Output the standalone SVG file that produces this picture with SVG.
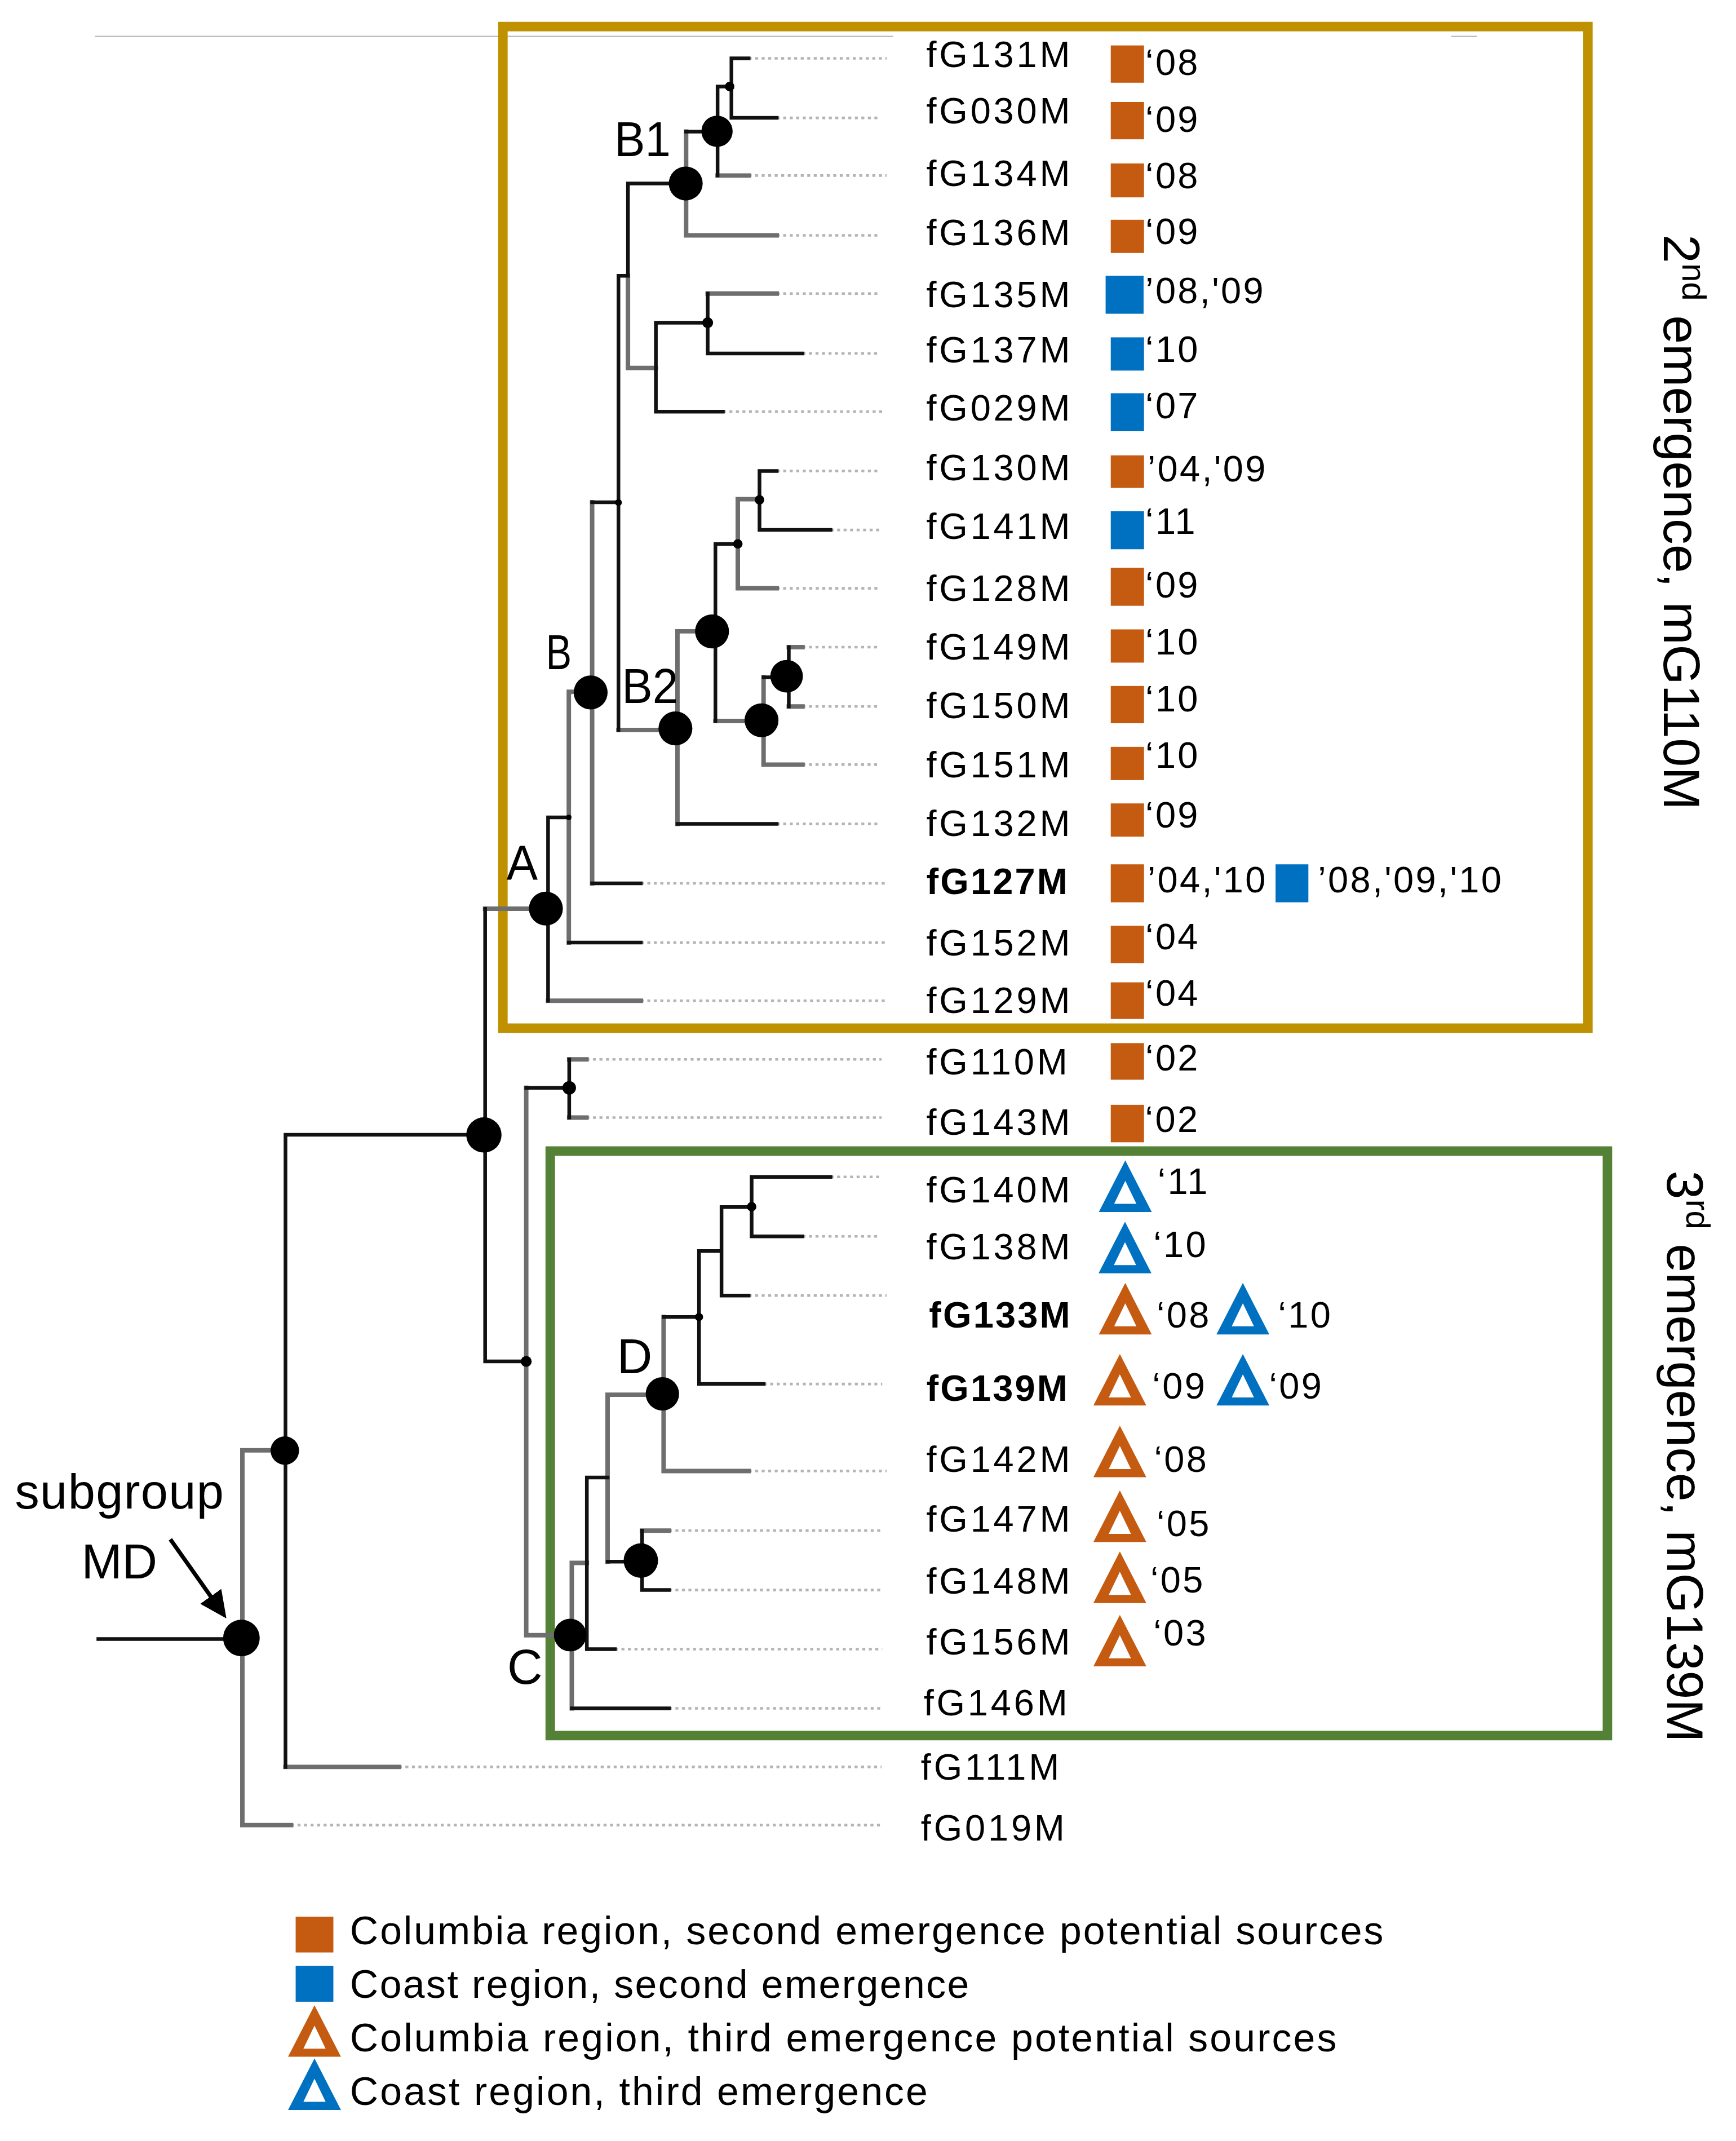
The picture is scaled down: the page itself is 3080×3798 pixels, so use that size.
<svg xmlns="http://www.w3.org/2000/svg" xmlns:xlink="http://www.w3.org/1999/xlink" width="3080" height="3798" viewBox="0 0 3080 3798">
<style>
.k{stroke:#111;stroke-width:2.7;fill:none;stroke-linecap:square}
.g{stroke:#6e6e6e;stroke-width:3.3;fill:none;stroke-linecap:square}
.d{stroke:#b4b4b4;stroke-width:1.9;stroke-dasharray:2.2 2.6;fill:none}
.nm{font-family:"Liberation Sans",Arial,sans-serif;font-size:27px;letter-spacing:2px;fill:#000}
.bd{font-weight:bold;letter-spacing:1.3px}
.yr{font-family:"Liberation Sans",Arial,sans-serif;font-size:27px;letter-spacing:1.4px;fill:#000}
.lb{font-family:"Liberation Sans",Arial,sans-serif;font-size:36px;fill:#000}
.lg{font-family:"Liberation Sans",Arial,sans-serif;font-size:29px;fill:#000}
.vt{font-family:"Liberation Sans",Arial,sans-serif;font-size:38px;fill:#000}
.or{fill:#C55A11}
.bl{fill:#0070C0}
.nd{fill:#000}
</style>
<defs>
<path id="tri" fill-rule="evenodd" d="M0,0 L19.5,38 L-19.5,38 Z M0,15 L-8.2,32 L8.2,32 Z"/>
<marker id="arr" markerUnits="userSpaceOnUse" markerWidth="22" markerHeight="20" refX="8" refY="9.5" orient="auto"><path d="M0,0 L20,9.5 L0,19 Z" fill="#000"/></marker>
</defs>
<rect width="3080" height="3798" fill="#fff"/>
<g transform="scale(2.40625)">
<g id="frame">
<path d="M70,26.8 H658.5 M1070,26.8 H1089" stroke="#b5b5b5" stroke-width="0.8" fill="none"/>
<rect id="box-2nd" x="370.8" y="19.6" width="800" height="738.4" fill="none" stroke="#BF9000" stroke-width="7"/>
<rect id="box-3rd" x="405.7" y="848.6" width="779.5" height="430.9" fill="none" stroke="#538135" stroke-width="7"/>
<text class="vt" transform="translate(1226.6,172.9) rotate(90)">2<tspan font-size="25" dy="-14">nd</tspan><tspan dy="14"> emergence, mG110M</tspan></text>
<text class="vt" transform="translate(1229.4,863) rotate(90)">3<tspan font-size="25" dy="-14">rd</tspan><tspan dy="14"> emergence, mG139M</tspan></text>
</g>
<g id="connectors">
<path class="d" d="M552,43H653.8M572.7,86.9H649M552,129.4H653.7M572.7,173.5H649M572.7,216.4H649M591.7,260.6H649M533,303.5H650.5M572.7,347.2H649M612.4,390.7H650.6M572.7,433.7H649M591.7,477.1H649M591.7,520.8H649M591.7,563.7H649M572.7,607.4H649M472.5,651.2H653.7M472.5,694.9H653.7M472.5,737.8H653.7M432.4,781H650M432.4,823.9H650M612.4,867.6H650.5M591.7,911.5H649M552,955.1H653.7M563.1,1020.3H650.5M552,1084.5H653.7M493.2,1128.4H649M493.2,1172.2H649M453.4,1215.8H650.5M493.2,1259.4H649M294.1,1302.6H650M214.6,1345.5H650"/>
<path class="g" d="M505.9,97V173.5M463,203.3V271.3H483.6M436.6,370.3V651.2M456,538.2H498M499.5,465.4V607.4M499.5,465.4H525M544,368V433.7M544,368H560M527.5,531.5H563M563,499.3V563.7M419.4,510H435.3M419.4,510V694.9M357.7,669.9H402.5M178.7,1069.2H210.5M178.7,1069.2V1345.5M388,802V1205.5H421.6M489.3,970.9V1084.5M448,1028.2H488.4M448,1028.2V1151.3M421.6,1152.2H432.7M421.6,1152.2V1259.4M529.1,129.4H552M505.9,173.5H572.7M521.8,216.4H572.7M544,433.7H572.7M581.6,477.1H591.7M581.6,520.8H591.7M563,563.7H591.7M404.1,737.8H472.5M419.7,781H432.4M419.7,823.9H432.4M489.3,1084.5H552M473.4,1128.4H493.2M210.5,1302.6H294.1M178.7,1345.5H214.6"/>
<path class="k" d="M539.3,43V86.9M529.1,63.8H539.3M529.1,63.8V129.4M505.9,97H529.1M463,135.3H505.9M463,135.3V203.3M483.6,237.9V303.5M483.6,237.9H521.8M521.8,216.4V260.6M456,203.3H463M456,203.3V538.2M436.6,370.3H456M527.5,401V531.5M527.5,401H544M560,347.2V390.7M563,499.3H580M581.6,477.1V520.8M404.1,602.6H419.4M404.1,602.6V737.8M357.7,669.9V1003.6M210.5,836.6H356.8M210.5,836.6V1302.6M72.5,1208.3H178M357.7,1003.6H388M388,802H419.7M419.7,781V823.9M554.2,867.6V911.5M532,889.9H554.2M532,889.9V955.1M515.4,922.3H532M515.4,922.3V1020.3M489.3,970.9H515.4M432.7,1089.2H448M432.7,1089.2V1215.8M448,1151.3H472.5M473.4,1128.4V1172.2M539.3,43H552M539.3,86.9H572.7M521.8,260.6H591.7M483.6,303.5H533M560,347.2H572.7M560,390.7H612.4M499.5,607.4H572.7M436.6,651.2H472.5M419.4,694.9H472.5M554.2,867.6H612.4M554.2,911.5H591.7M532,955.1H552M515.4,1020.3H563.1M473.4,1172.2H493.2M432.7,1215.8H453.4M421.6,1259.4H493.2"/>
<line x1="125.6" y1="1134.8" x2="160" y2="1183.4" stroke="#000" stroke-width="3" marker-end="url(#arr)"/>
</g>
<g id="nodes">
<g id="n-131-030"><circle class="nd" cx="538" cy="63.8" r="3.5"/></g>
<g id="n-B1sub"><circle class="nd" cx="528.7" cy="96.8" r="11.5"/></g>
<g id="n-B1"><circle class="nd" cx="505.6" cy="135.3" r="12.5"/><text class="lb" x="453" y="115" textLength="41.5" lengthAdjust="spacingAndGlyphs">B1</text></g>
<g id="n-135-029"><circle class="nd" cx="521.8" cy="237.9" r="4"/></g>
<g id="n-Bclade"><circle class="nd" cx="456" cy="370.5" r="2.5"/></g>
<g id="n-130-141"><circle class="nd" cx="560" cy="368.5" r="3.5"/></g>
<g id="n-130-128"><circle class="nd" cx="544" cy="401" r="3.5"/></g>
<g id="n-B2a"><circle class="nd" cx="525" cy="465.5" r="12.5"/></g>
<g id="n-149-150"><circle class="nd" cx="580" cy="498.5" r="12"/></g>
<g id="n-149-151"><circle class="nd" cx="561.5" cy="531" r="12.5"/></g>
<g id="n-B"><circle class="nd" cx="435.5" cy="510.5" r="12.5"/><text class="lb" x="402.5" y="493.3" textLength="19" lengthAdjust="spacingAndGlyphs">B</text></g>
<g id="n-B2"><circle class="nd" cx="498" cy="537" r="12.5"/><text class="lb" x="458.5" y="518.4" textLength="41.5" lengthAdjust="spacingAndGlyphs">B2</text></g>
<g id="n-A1"><circle class="nd" cx="419.4" cy="602.6" r="2"/></g>
<g id="n-A"><circle class="nd" cx="402.5" cy="669.8" r="12.5"/><text class="lb" x="373.5" y="648.9" textLength="23" lengthAdjust="spacingAndGlyphs">A</text></g>
<g id="n-110-143"><circle class="nd" cx="419.7" cy="802" r="5"/></g>
<g id="n-main"><circle class="nd" cx="356.8" cy="836.7" r="13"/></g>
<g id="n-lower"><circle class="nd" cx="388" cy="1003.7" r="4"/></g>
<g id="n-140-138"><circle class="nd" cx="554.2" cy="889.6" r="3.5"/></g>
<g id="n-133"><circle class="nd" cx="515.4" cy="971" r="3"/></g>
<g id="n-D"><circle class="nd" cx="488.4" cy="1027.6" r="12.3"/><text class="lb" font-size="32" x="455" y="1012.3">D</text></g>
<g id="n-147-148"><circle class="nd" cx="472.5" cy="1150.5" r="12.7"/></g>
<g id="n-C"><circle class="nd" cx="420.4" cy="1205.4" r="12"/><text class="lb" font-size="32" x="374" y="1241.2">C</text></g>
<g id="n-111"><circle class="nd" cx="210" cy="1069.4" r="10.5"/></g>
<g id="n-root"><circle class="nd" cx="178" cy="1207.6" r="13.5"/></g>
<g id="label-subgroup"><text class="lb" x="11" y="1112.1" textLength="154" lengthAdjust="spacing">subgroup</text><text class="lb" x="60" y="1163.8">MD</text></g>
</g>
<g id="leaves">
<g id="leaf-fG131M"><text class="nm" x="683" y="49.4">fG131M</text><rect class="or" x="819" y="33.5" width="24.5" height="27.5"/><text class="yr" x="844.5" y="55.4">‘08</text></g>
<g id="leaf-fG030M"><text class="nm" x="683" y="91.2">fG030M</text><rect class="or" x="819" y="75.2" width="24.5" height="27.5"/><text class="yr" x="844.5" y="97.2">‘09</text></g>
<g id="leaf-fG134M"><text class="nm" x="683" y="137">fG134M</text><rect class="or" x="819" y="120.5" width="24.5" height="25"/><text class="yr" x="844.5" y="138.9">‘08</text></g>
<g id="leaf-fG136M"><text class="nm" x="683" y="180.7">fG136M</text><rect class="or" x="819" y="162" width="24.5" height="24.5"/><text class="yr" x="844.5" y="180">‘09</text></g>
<g id="leaf-fG135M"><text class="nm" x="683" y="226.7">fG135M</text><rect class="bl" x="815.2" y="203.3" width="28" height="28"/><text class="yr" x="844.5" y="223.6">’08,'09</text></g>
<g id="leaf-fG137M"><text class="nm" x="683" y="267.3">fG137M</text><rect class="bl" x="819" y="248.7" width="24.5" height="24.5"/><text class="yr" x="844.5" y="266.6">‘10</text></g>
<g id="leaf-fG029M"><text class="nm" x="683" y="310.2">fG029M</text><rect class="bl" x="819" y="289.9" width="24.5" height="28"/><text class="yr" x="844.5" y="308.3">‘07</text></g>
<g id="leaf-fG130M"><text class="nm" x="683" y="354.1">fG130M</text><rect class="or" x="819" y="335.7" width="24.5" height="24"/><text class="yr" x="846" y="354.8">’04,'09</text></g>
<g id="leaf-fG141M"><text class="nm" x="683" y="397.2">fG141M</text><rect class="bl" x="819" y="376.9" width="24.5" height="28"/><text class="yr" x="844.5" y="393.6">‘11</text></g>
<g id="leaf-fG128M"><text class="nm" x="683" y="443.2">fG128M</text><rect class="or" x="819" y="418.6" width="24.5" height="28"/><text class="yr" x="844.5" y="440.4">‘09</text></g>
<g id="leaf-fG149M"><text class="nm" x="683" y="486.2">fG149M</text><rect class="or" x="819" y="464" width="24.5" height="24.5"/><text class="yr" x="844.5" y="482.6">‘10</text></g>
<g id="leaf-fG150M"><text class="nm" x="683" y="529.6">fG150M</text><rect class="or" x="819" y="505.7" width="24.5" height="27.5"/><text class="yr" x="844.5" y="524.3">‘10</text></g>
<g id="leaf-fG151M"><text class="nm" x="683" y="573.2">fG151M</text><rect class="or" x="819" y="550.6" width="24.5" height="24.5"/><text class="yr" x="844.5" y="566.1">‘10</text></g>
<g id="leaf-fG132M"><text class="nm" x="683" y="616.2">fG132M</text><rect class="or" x="819" y="592.3" width="24.5" height="24.5"/><text class="yr" x="844.5" y="610.2">‘09</text></g>
<g id="leaf-fG127M"><text class="nm bd" x="683" y="659.1">fG127M</text><rect class="or" x="819" y="637.2" width="24.5" height="28"/><text class="yr" x="846" y="657.9">’04,'10</text><rect class="bl" x="940.5" y="637.2" width="24.2" height="28"/><text class="yr" x="971.7" y="657.9">’08,'09,'10</text></g>
<g id="leaf-fG152M"><text class="nm" x="683" y="704.5">fG152M</text><rect class="or" x="819" y="682.5" width="24.5" height="27.5"/><text class="yr" x="844.5" y="699.7">‘04</text></g>
<g id="leaf-fG129M"><text class="nm" x="683" y="747">fG129M</text><rect class="or" x="819" y="724.2" width="24.5" height="27"/><text class="yr" x="844.5" y="741.4">‘04</text></g>
<g id="leaf-fG110M"><text class="nm" x="683" y="792">fG110M</text><rect class="or" x="819" y="769" width="24.5" height="27"/><text class="yr" x="844.5" y="789">‘02</text></g>
<g id="leaf-fG143M"><text class="nm" x="683" y="836.5">fG143M</text><rect class="or" x="819" y="814.5" width="24.5" height="27.6"/><text class="yr" x="844.3" y="834.5">‘02</text></g>
<g id="leaf-fG140M"><text class="nm" x="683" y="886.4">fG140M</text><use xlink:href="#tri" class="bl" x="829.7" y="855.5"/><text class="yr" x="853.5" y="880.3">‘11</text></g>
<g id="leaf-fG138M"><text class="nm" x="683" y="928.6">fG138M</text><use xlink:href="#tri" class="bl" x="829.5" y="900.7"/><text class="yr" x="850.4" y="926.9">‘10</text></g>
<g id="leaf-fG133M"><text class="nm bd" x="685" y="978.5">fG133M</text><use xlink:href="#tri" class="or" x="829.7" y="945.8"/><text class="yr" x="852.8" y="978.5">‘08</text><use xlink:href="#tri" class="bl" x="916.4" y="945.8"/><text class="yr" x="942.3" y="978.5">‘10</text></g>
<g id="leaf-fG139M"><text class="nm bd" x="683" y="1032.6">fG139M</text><use xlink:href="#tri" class="or" x="825.7" y="998.2"/><text class="yr" x="849.6" y="1030.9">‘09</text><use xlink:href="#tri" class="bl" x="916.4" y="998.2"/><text class="yr" x="935.7" y="1030.9">‘09</text></g>
<g id="leaf-fG142M"><text class="nm" x="683" y="1085">fG142M</text><use xlink:href="#tri" class="or" x="825.7" y="1051"/><text class="yr" x="850.9" y="1085">‘08</text></g>
<g id="leaf-fG147M"><text class="nm" x="683" y="1129.1">fG147M</text><use xlink:href="#tri" class="or" x="825.7" y="1098.8"/><text class="yr" x="852.8" y="1132.6">‘05</text></g>
<g id="leaf-fG148M"><text class="nm" x="683" y="1175">fG148M</text><use xlink:href="#tri" class="or" x="825.7" y="1143.8"/><text class="yr" x="848.2" y="1173.9">‘05</text></g>
<g id="leaf-fG156M"><text class="nm" x="683" y="1219.8">fG156M</text><use xlink:href="#tri" class="or" x="825.7" y="1190.5"/><text class="yr" x="850.4" y="1212.9">‘03</text></g>
<g id="leaf-fG146M"><text class="nm" x="681" y="1264.6">fG146M</text></g>
<g id="leaf-fG111M"><text class="nm" x="679" y="1311.8">fG111M</text></g>
<g id="leaf-fG019M"><text class="nm" x="679" y="1357">fG019M</text></g>
</g>
<g id="legend">
<rect class="or" x="218" y="1413" width="27.8" height="26.4"/>
<text class="lg" x="258" y="1433.4" textLength="762" lengthAdjust="spacing">Columbia region, second emergence potential sources</text>
<rect class="bl" x="218" y="1449.3" width="27.8" height="26.4"/>
<text class="lg" x="258" y="1473" textLength="456.5" lengthAdjust="spacing">Coast region, second emergence</text>
<use xlink:href="#tri" class="or" x="231.9" y="1478.3"/>
<text class="lg" x="258" y="1512.3" textLength="727.5" lengthAdjust="spacing">Columbia region, third emergence potential sources</text>
<use xlink:href="#tri" class="bl" x="231.9" y="1517.5"/>
<text class="lg" x="258" y="1551.9" textLength="426" lengthAdjust="spacing">Coast region, third emergence</text>
</g>
</g>
</svg>
